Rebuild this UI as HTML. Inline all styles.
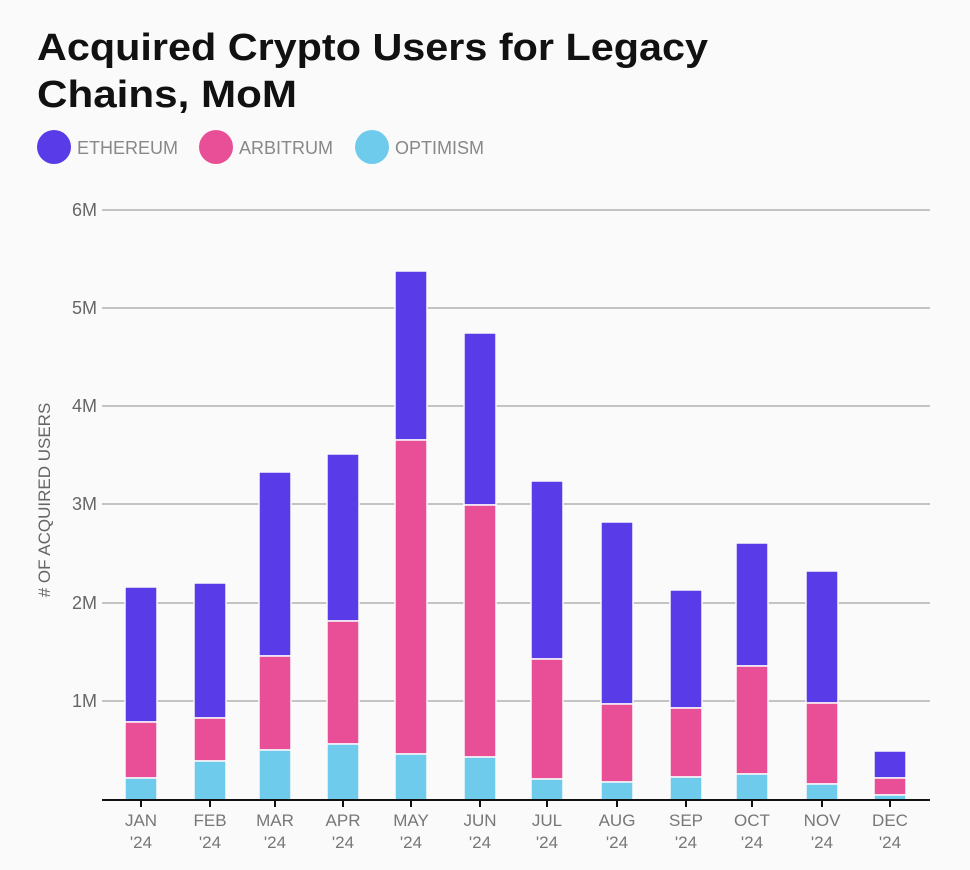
<!DOCTYPE html>
<html><head><meta charset="utf-8"><style>
html,body{margin:0;padding:0;background:#fafafa;}
svg{display:block;font-family:"Liberation Sans",sans-serif;}
</style></head><body>
<svg width="970" height="870" viewBox="0 0 970 870" xmlns="http://www.w3.org/2000/svg">
<rect width="970" height="870" fill="#fafafa"/>
<text x="37" y="60" font-size="38" font-weight="700" fill="#111" textLength="671" lengthAdjust="spacingAndGlyphs">Acquired Crypto Users for Legacy</text>
<text x="37" y="107" font-size="38" font-weight="700" fill="#111" textLength="260" lengthAdjust="spacingAndGlyphs">Chains, MoM</text>
<circle cx="54" cy="147" r="17" fill="#5a3be8"/>
<text x="77" y="154" font-size="18" fill="#888">ETHEREUM</text>
<circle cx="216" cy="147" r="17" fill="#e94f96"/>
<text x="239" y="154" font-size="18" fill="#888">ARBITRUM</text>
<circle cx="372" cy="147" r="17" fill="#6ecbec"/>
<text x="395" y="154" font-size="18" fill="#888">OPTIMISM</text>
<g stroke="#c4c4c4" stroke-width="2">
<line x1="102" x2="930" y1="210" y2="210"/>
<line x1="102" x2="930" y1="308" y2="308"/>
<line x1="102" x2="930" y1="406" y2="406"/>
<line x1="102" x2="930" y1="504" y2="504"/>
<line x1="102" x2="930" y1="603" y2="603"/>
<line x1="102" x2="930" y1="701" y2="701"/>
</g>
<g font-size="18" fill="#666" text-anchor="end">
<text x="97" y="216">6M</text><text x="97" y="314">5M</text><text x="97" y="412">4M</text>
<text x="97" y="510">3M</text><text x="97" y="609">2M</text><text x="97" y="707">1M</text>
</g>
<text transform="translate(50,500) rotate(-90)" font-size="17" fill="#666" text-anchor="middle">#  OF ACQUIRED USERS</text>
<g stroke="#fafafa" stroke-width="1.5">
<rect x="125" y="587" width="32" height="135" fill="#5a3be8"/><rect x="125" y="722" width="32" height="56" fill="#e94f96"/><rect x="125" y="778" width="32" height="22" fill="#6ecbec"/>
<rect x="194" y="583" width="32" height="135" fill="#5a3be8"/><rect x="194" y="718" width="32" height="43" fill="#e94f96"/><rect x="194" y="761" width="32" height="39" fill="#6ecbec"/>
<rect x="259" y="472" width="32" height="184" fill="#5a3be8"/><rect x="259" y="656" width="32" height="94" fill="#e94f96"/><rect x="259" y="750" width="32" height="50" fill="#6ecbec"/>
<rect x="327" y="454" width="32" height="167" fill="#5a3be8"/><rect x="327" y="621" width="32" height="123" fill="#e94f96"/><rect x="327" y="744" width="32" height="56" fill="#6ecbec"/>
<rect x="395" y="271" width="32" height="169" fill="#5a3be8"/><rect x="395" y="440" width="32" height="314" fill="#e94f96"/><rect x="395" y="754" width="32" height="46" fill="#6ecbec"/>
<rect x="464" y="333" width="32" height="172" fill="#5a3be8"/><rect x="464" y="505" width="32" height="252" fill="#e94f96"/><rect x="464" y="757" width="32" height="43" fill="#6ecbec"/>
<rect x="531" y="481" width="32" height="178" fill="#5a3be8"/><rect x="531" y="659" width="32" height="120" fill="#e94f96"/><rect x="531" y="779" width="32" height="21" fill="#6ecbec"/>
<rect x="601" y="522" width="32" height="182" fill="#5a3be8"/><rect x="601" y="704" width="32" height="78" fill="#e94f96"/><rect x="601" y="782" width="32" height="18" fill="#6ecbec"/>
<rect x="670" y="590" width="32" height="118" fill="#5a3be8"/><rect x="670" y="708" width="32" height="69" fill="#e94f96"/><rect x="670" y="777" width="32" height="23" fill="#6ecbec"/>
<rect x="736" y="543" width="32" height="123" fill="#5a3be8"/><rect x="736" y="666" width="32" height="108" fill="#e94f96"/><rect x="736" y="774" width="32" height="26" fill="#6ecbec"/>
<rect x="806" y="571" width="32" height="132" fill="#5a3be8"/><rect x="806" y="703" width="32" height="81" fill="#e94f96"/><rect x="806" y="784" width="32" height="16" fill="#6ecbec"/>
<rect x="874" y="751" width="32" height="27" fill="#5a3be8"/><rect x="874" y="778" width="32" height="17" fill="#e94f96"/><rect x="874" y="795" width="32" height="5" fill="#6ecbec"/>
</g>
<line x1="102" x2="930" y1="800" y2="800" stroke="#111" stroke-width="2"/>
<g stroke="#111" stroke-width="2">
<line x1="141" x2="141" y1="800" y2="807"/><line x1="210" x2="210" y1="800" y2="807"/><line x1="275" x2="275" y1="800" y2="807"/>
<line x1="343" x2="343" y1="800" y2="807"/><line x1="411" x2="411" y1="800" y2="807"/><line x1="480" x2="480" y1="800" y2="807"/>
<line x1="547" x2="547" y1="800" y2="807"/><line x1="617" x2="617" y1="800" y2="807"/><line x1="686" x2="686" y1="800" y2="807"/>
<line x1="752" x2="752" y1="800" y2="807"/><line x1="822" x2="822" y1="800" y2="807"/><line x1="890" x2="890" y1="800" y2="807"/>
</g>
<g font-size="17" fill="#777" text-anchor="middle">
<text x="141" y="826">JAN</text><text x="141" y="848">'24</text>
<text x="210" y="826">FEB</text><text x="210" y="848">'24</text>
<text x="275" y="826">MAR</text><text x="275" y="848">'24</text>
<text x="343" y="826">APR</text><text x="343" y="848">'24</text>
<text x="411" y="826">MAY</text><text x="411" y="848">'24</text>
<text x="480" y="826">JUN</text><text x="480" y="848">'24</text>
<text x="547" y="826">JUL</text><text x="547" y="848">'24</text>
<text x="617" y="826">AUG</text><text x="617" y="848">'24</text>
<text x="686" y="826">SEP</text><text x="686" y="848">'24</text>
<text x="752" y="826">OCT</text><text x="752" y="848">'24</text>
<text x="822" y="826">NOV</text><text x="822" y="848">'24</text>
<text x="890" y="826">DEC</text><text x="890" y="848">'24</text>
</g>
</svg>
</body></html>
